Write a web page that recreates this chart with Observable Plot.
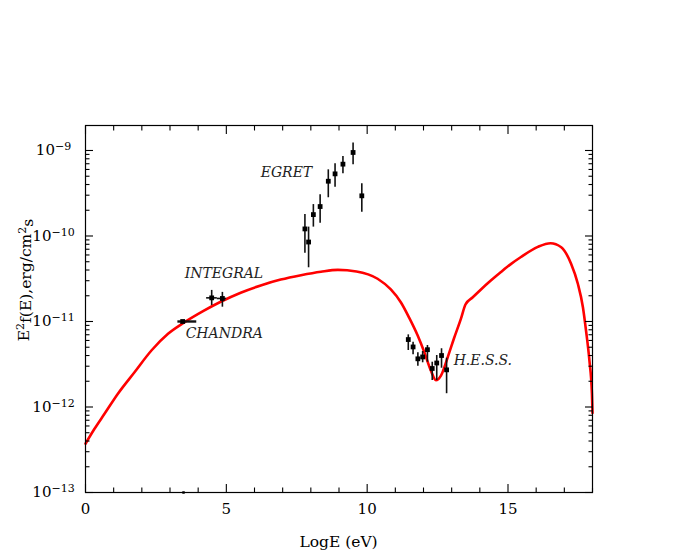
<!DOCTYPE html>
<html>
<head>
<meta charset="utf-8">
<script src="https://cdn.jsdelivr.net/npm/d3@7"></script>
<script src="https://cdn.jsdelivr.net/npm/@observablehq/plot@0.6"></script>
<style>
  html, body { margin: 0; padding: 0; background: #fff; }
  #chart svg { display: block; }
</style>
</head>
<body>
<div id="chart"></div>
<script>
// ---- data ----
const egretX  = [7.79, 7.92, 8.09, 8.33, 8.62, 8.86, 9.14, 9.50, 9.81];
const egretY  = [1.21e-10, 8.5e-11, 1.78e-10, 2.21e-10, 4.37e-10, 5.33e-10, 6.92e-10, 9.48e-10, 2.95e-10];
const egretLo = [6.3e-11, 4.25e-11, 1.27e-10, 1.41e-10, 2.80e-10, 3.72e-10, 5.33e-10, 6.81e-10, 1.90e-10];
const egretHi = [1.78e-10, 1.27e-10, 2.33e-10, 3.03e-10, 5.94e-10, 6.98e-10, 8.51e-10, 1.22e-9, 4.08e-10];

const hessX  = [11.46, 11.63, 11.80, 11.97, 12.14, 12.31, 12.47, 12.64, 12.82];
const hessY  = [6.15e-12, 5.04e-12, 3.66e-12, 3.85e-12, 4.68e-12, 2.82e-12, 3.27e-12, 4.00e-12, 2.72e-12];
const hessLo = [4.58e-12, 4.08e-12, 3.00e-12, 3.29e-12, 3.34e-12, 2.04e-12, 2.04e-12, 2.84e-12, 1.43e-12];
const hessHi = [6.98e-12, 5.73e-12, 4.30e-12, 4.46e-12, 5.24e-12, 3.34e-12, 4.00e-12, 4.80e-12, 3.72e-12];

const integralX   = [4.48, 4.86];
const integralXlo = [4.30, 4.68];
const integralXhi = [4.68, 5.01];
const integralY   = [1.89e-11, 1.86e-11];
const integralLo  = [1.54e-11, 1.47e-11];
const integralHi  = [2.31e-11, 2.19e-11];

const chandraX   = [3.45];
const chandraXlo = [3.28];
const chandraXhi = [3.95];
const chandraY   = [1.0e-11];

const strayX = [3.48];
const strayY = [1.0e-13];

// model curve (red)
const curveX = [0, 0.32, 0.675, 1.15, 1.74, 2.34, 2.93, 3.52, 4.19, 4.80, 5.51, 6.22, 6.93, 7.65, 8.36,
  8.96, 9.62, 10.37, 10.84, 11.20, 11.49, 11.79, 12.03, 12.26, 12.44, 12.62, 12.86, 13.09, 13.33, 13.49,
  13.75, 14.04, 14.40, 14.75, 15.10, 15.46, 16.06, 16.51, 16.89, 17.24, 17.48, 17.66, 17.77, 17.89, 17.98, 18.0];
const curveY = [3.72e-13, 5.56e-13, 8.32e-13, 1.43e-12, 2.55e-12, 4.58e-12, 7.18e-12, 9.82e-12, 1.33e-11, 1.70e-11,
  2.17e-11, 2.64e-11, 3.09e-11, 3.48e-11, 3.82e-11, 4.01e-11, 3.85e-11, 3.16e-11, 2.37e-11, 1.67e-11,
  1.11e-11, 6.90e-12, 4.37e-12, 2.67e-12, 2.06e-12, 2.33e-12, 3.82e-12, 6.45e-12, 1.08e-11, 1.58e-11,
  1.92e-11, 2.37e-11, 3.03e-11, 3.79e-11, 4.69e-11, 5.68e-11, 7.46e-11, 8.24e-11, 7.40e-11, 4.73e-11,
  2.76e-11, 1.47e-11, 7.85e-12, 3.50e-12, 1.43e-12, 8.5e-13];

const labelText = ["EGRET", "INTEGRAL", "CHANDRA", "H.E.S.S."];
const labelX    = [6.22, 3.52, 3.555, 13.07];
const labelY    = [5.53e-10, 3.6e-11, 7.33e-12, 3.45e-12];

const xMajor = [0, 5, 10, 15];
const xMinor = d3.range(0, 19).filter(v => v % 5 !== 0);
const yMajor = [1e-13, 1e-12, 1e-11, 1e-10, 1e-9];
const yMinor = [];
for (const d of [1e-13, 1e-12, 1e-11, 1e-10, 1e-9]) for (let k = 2; k <= 9; k++) if (d * k < 1.96e-9) yMinor.push(d * k);

// ---- tables ----
const egret = egretX.map((x, i) => ({x, y: egretY[i], lo: egretLo[i], hi: egretHi[i]}));
const hess = hessX.map((x, i) => ({x, y: hessY[i], lo: hessLo[i], hi: hessHi[i]}));
const integral = integralX.map((x, i) => ({x, xlo: integralXlo[i], xhi: integralXhi[i], y: integralY[i], lo: integralLo[i], hi: integralHi[i]}));
const chandra = chandraX.map((x, i) => ({x, xlo: chandraXlo[i], xhi: chandraXhi[i], y: chandraY[i]}));
const stray = strayX.map((x, i) => ({x, y: strayY[i]}));
const curve = curveX.map((x, i) => ({x, y: curveY[i]}));
const labels = labelText.map((t, i) => ({t, x: labelX[i], y: labelY[i]}));
const points = [...egret, ...hess, ...integral, ...chandra];

const noText = () => "";
const tk = {label: null, tickFormat: noText, strokeWidth: 1.1};

const chart = Plot.plot({
  width: 685,
  height: 552,
  marginLeft: 85,
  marginRight: 93,
  marginTop: 125,
  marginBottom: 60,
  style: {fontFamily: "DejaVu Serif", fontSize: "15px", background: "#fff", color: "#000"},
  x: {domain: [0, 18]},
  y: {type: "log", domain: [1e-13, 1.96e-9]},
  marks: [
    Plot.line(curve, {x: "x", y: "y", stroke: "#ff0000", strokeWidth: 2.6, curve: "monotone-x"}),
    Plot.ruleX([...egret, ...hess, ...integral], {x: "x", y1: "lo", y2: "hi", stroke: "#111", strokeWidth: 1.6}),
    Plot.ruleY(integral, {y: "y", x1: "xlo", x2: "xhi", stroke: "#111", strokeWidth: 1.6}),
    Plot.ruleY(chandra, {y: "y", x1: "xlo", x2: "xhi", stroke: "#111", strokeWidth: 2.4}),
    Plot.dot(points, {x: "x", y: "y", symbol: "square", r: 2.7, fill: "#000", stroke: null}),
    Plot.dot(stray, {x: "x", y: "y", symbol: "square", r: 1.4, fill: "#000", stroke: null}),
    Plot.text(labels, {x: "x", y: "y", text: "t", textAnchor: "start", fontStyle: "italic",
      fontFamily: "DejaVu Serif", fontSize: 14, fill: "#222"}),
    // inward ticks (drawn outward, then shifted inside the frame)
    Plot.axisX(xMajor, {...tk, anchor: "bottom", tickSize: 8, dy: -8}),
    Plot.axisX(xMinor, {...tk, anchor: "bottom", tickSize: 4.5, dy: -4.5}),
    Plot.axisX(xMajor, {...tk, anchor: "top", tickSize: 8, dy: 8}),
    Plot.axisX(xMinor, {...tk, anchor: "top", tickSize: 4.5, dy: 4.5}),
    Plot.axisY(yMajor, {...tk, anchor: "left", tickSize: 8, dx: 8}),
    Plot.axisY(yMinor, {...tk, anchor: "left", tickSize: 4.5, dx: 4.5}),
    Plot.axisY(yMajor, {...tk, anchor: "right", tickSize: 8, dx: -8}),
    Plot.axisY(yMinor, {...tk, anchor: "right", tickSize: 4.5, dx: -4.5}),
    // tick labels
    Plot.axisX(xMajor, {anchor: "bottom", tickSize: 0, tickPadding: 11, label: null, tickFormat: d => String(d)}),
    Plot.axisY(yMajor, {anchor: "left", tickSize: 0, tickPadding: 32, textAnchor: "middle", label: null,
      tickFormat: d => "10^" + Math.round(Math.log10(d))}),
    Plot.frame({stroke: "#000", strokeWidth: 1.2})
  ]
});

// superscripts for y tick labels
d3.select(chart).selectAll("text").each(function () {
  const s = this.textContent;
  const m = /^10\^(-?\d+)$/.exec(s);
  if (!m) return;
  const el = d3.select(this);
  el.text(null);
  el.append("tspan").text("10");
  el.append("tspan").attr("dy", "-0.45em").attr("font-size", "11px").text("\u2212" + m[1].replace("-", ""));
});

const svg = d3.select(chart);
// y-axis title
const yt = svg.append("text")
  .attr("transform", "translate(29,280) rotate(-90)")
  .attr("text-anchor", "middle")
  .attr("font-family", "DejaVu Serif")
  .attr("font-size", "15.5px")
  .attr("fill", "#000");
yt.append("tspan").text("E");
yt.append("tspan").attr("dy", "-0.45em").attr("font-size", "11px").text("2");
yt.append("tspan").attr("dy", "0.45em").text("f(E),erg/cm");
yt.append("tspan").attr("dy", "-0.45em").attr("font-size", "11px").text("2");
yt.append("tspan").attr("dy", "0.45em").text("s");
// x-axis title
svg.append("text")
  .attr("x", 338.5).attr("y", 547)
  .attr("text-anchor", "middle")
  .attr("font-family", "DejaVu Serif")
  .attr("font-size", "15.5px")
  .attr("fill", "#000")
  .text("LogE (eV)");

document.getElementById("chart").appendChild(chart);
</script>
</body>
</html>
